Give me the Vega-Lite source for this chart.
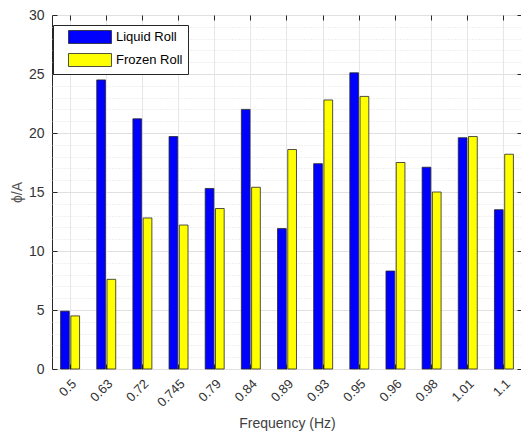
{
  "$schema": "https://vega.github.io/schema/vega-lite/v6.json",
  "width": 470,
  "height": 354,
  "autosize": {"type": "none"},
  "padding": {"left": 52, "top": 15, "right": 0, "bottom": 70},
  "background": "white",
  "config": {
    "view": {"stroke": "#262626", "strokeWidth": 1},
    "font": "Liberation Sans",
    "axis": {"labelFont": "Liberation Sans", "titleFont": "Liberation Sans", "labelColor": "#333333", "titleColor": "#404040", "titleFontWeight": "normal"}
  },
  "data": {
    "values": [
      {"freq": "0.5", "type": "Liquid Roll", "value": 4.9},
      {"freq": "0.5", "type": "Frozen Roll", "value": 4.5},
      {"freq": "0.63", "type": "Liquid Roll", "value": 24.5},
      {"freq": "0.63", "type": "Frozen Roll", "value": 7.6},
      {"freq": "0.72", "type": "Liquid Roll", "value": 21.2},
      {"freq": "0.72", "type": "Frozen Roll", "value": 12.8},
      {"freq": "0.745", "type": "Liquid Roll", "value": 19.7},
      {"freq": "0.745", "type": "Frozen Roll", "value": 12.2},
      {"freq": "0.79", "type": "Liquid Roll", "value": 15.3},
      {"freq": "0.79", "type": "Frozen Roll", "value": 13.6},
      {"freq": "0.84", "type": "Liquid Roll", "value": 22.0},
      {"freq": "0.84", "type": "Frozen Roll", "value": 15.4},
      {"freq": "0.89", "type": "Liquid Roll", "value": 11.9},
      {"freq": "0.89", "type": "Frozen Roll", "value": 18.6},
      {"freq": "0.93", "type": "Liquid Roll", "value": 17.4},
      {"freq": "0.93", "type": "Frozen Roll", "value": 22.8},
      {"freq": "0.95", "type": "Liquid Roll", "value": 25.1},
      {"freq": "0.95", "type": "Frozen Roll", "value": 23.1},
      {"freq": "0.96", "type": "Liquid Roll", "value": 8.3},
      {"freq": "0.96", "type": "Frozen Roll", "value": 17.5},
      {"freq": "0.98", "type": "Liquid Roll", "value": 17.1},
      {"freq": "0.98", "type": "Frozen Roll", "value": 15.0},
      {"freq": "1.01", "type": "Liquid Roll", "value": 19.6},
      {"freq": "1.01", "type": "Frozen Roll", "value": 19.7},
      {"freq": "1.1", "type": "Liquid Roll", "value": 13.5},
      {"freq": "1.1", "type": "Frozen Roll", "value": 18.2}
    ]
  },
  "resolve": {"axis": {"x": "independent", "y": "independent"}},
  "layer": [
    {
      "mark": {"type": "bar", "opacity": 0},
      "encoding": {
        "x": {"field": "freq", "type": "nominal", "sort": null, "axis": null},
        "y": {"field": "value", "type": "quantitative", "stack": null,
          "axis": {"orient": "left", "grid": true, "gridDash": [1, 2], "gridColor": "#d8d8d8", "gridWidth": 0.8,
            "values": [1,2,3,4,6,7,8,9,11,12,13,14,16,17,18,19,21,22,23,24,26,27,28,29],
            "labels": false, "ticks": false, "domain": false, "title": null}}
      }
    },
    {
      "mark": {"type": "bar", "stroke": "#262626", "strokeWidth": 0.8},
      "encoding": {
        "x": {"field": "freq", "type": "nominal", "sort": null,
          "scale": {"paddingInner": 0.475, "paddingOuter": 0.2375},
          "axis": {"orient": "bottom", "labelAngle": -45, "labelFontSize": 13, "labelPadding": 8, "labelDx": 4,
            "ticks": false, "domain": false, "grid": true, "gridColor": "#e6e6e6",
            "title": "Frequency (Hz)", "titleFontSize": 14, "titlePadding": 7}},
        "xOffset": {"field": "type", "type": "nominal", "sort": ["Liquid Roll", "Frozen Roll"],
          "scale": {"paddingInner": 0.15, "paddingOuter": 0}},
        "y": {"field": "value", "type": "quantitative", "stack": null,
          "scale": {"domain": [0, 30], "nice": false},
          "axis": {"orient": "left", "values": [0, 5, 10, 15, 20, 25, 30], "labelFontSize": 14, "labelPadding": 8,
            "ticks": false, "domain": false, "grid": true, "gridColor": "#e0e0e0",
            "title": "ϕ/A", "titleFontSize": 14, "titlePadding": 4, "titleColor": "#555555"}},
        "color": {"field": "type", "type": "nominal",
          "scale": {"domain": ["Liquid Roll", "Frozen Roll"], "range": ["#0000ff", "#ffff00"]},
          "legend": {"orient": "none", "legendX": 1, "legendY": 10, "title": null,
            "fillColor": "white", "strokeColor": "#262626", "padding": 5, "rowPadding": 5,
            "symbolType": "M0.54,-1H7.15V1H0.54Z", "symbolSize": 169, "symbolStrokeColor": "#262626", "symbolStrokeWidth": 0.8,
            "symbolOpacity": 1,
            "labelFontSize": 13, "labelColor": "#000000", "labelOffset": 44, "labelFont": "Liberation Sans"}}
      }
    },
    {
      "mark": {"type": "bar", "opacity": 0},
      "encoding": {
        "x": {"field": "freq", "type": "nominal", "sort": null,
          "axis": {"orient": "top", "labels": false, "ticks": true, "tickSize": -5, "tickColor": "#262626", "domain": false, "grid": false, "title": null}},
        "y": {"field": "value", "type": "quantitative", "stack": null,
          "axis": {"orient": "right", "values": [0, 5, 10, 15, 20, 25, 30], "labels": false, "ticks": true, "tickSize": -5, "tickColor": "#262626", "domain": false, "grid": false, "title": null}}
      }
    },
    {
      "mark": {"type": "bar", "opacity": 0},
      "encoding": {
        "x": {"field": "freq", "type": "nominal", "sort": null,
          "axis": {"orient": "bottom", "labels": false, "ticks": true, "tickSize": -5, "tickColor": "#262626", "domain": false, "grid": false, "title": null, "zindex": 2}},
        "y": {"field": "value", "type": "quantitative", "stack": null,
          "axis": {"orient": "left", "values": [0, 5, 10, 15, 20, 25, 30], "labels": false, "ticks": true, "tickSize": -5, "tickColor": "#262626", "domain": false, "grid": false, "title": null, "zindex": 2}}
      }
    }
  ]
}
